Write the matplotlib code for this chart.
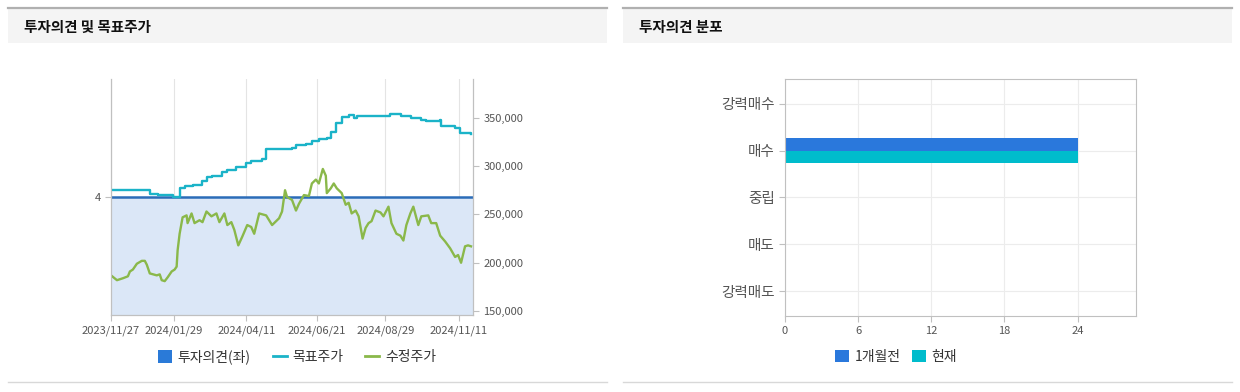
import numpy as np
import matplotlib
matplotlib.use("Agg")
import matplotlib.pyplot as plt
from matplotlib.patches import Rectangle, Patch
from matplotlib.lines import Line2D

plt.rcParams['font.family'] = ['Noto Sans CJK KR', 'DejaVu Sans']

W, H = 1240, 392
START = np.datetime64('2023-11-27')

# target price (days since start, thousand KRW), step series
tp_days = [0, 39, 47, 62, 69, 74, 82, 92, 97, 102, 112, 117, 126, 136, 141,
           152, 156, 169, 182, 186, 196, 202, 209, 217, 221, 226, 232, 239,
           244, 247, 269, 281, 292, 302, 312, 317, 331, 332, 346, 351, 362]
tp_vals = [275, 271, 270, 268, 277, 279, 280, 285, 289, 290, 294, 296, 299,
           303, 305, 307, 318, 318, 319, 322, 323, 326, 328, 329, 335, 344,
           351, 353, 350, 352, 352, 354, 352, 350, 348, 347, 348, 341, 339,
           334, 333]

# adjusted close (days since start, thousand KRW)
px_days = [0, 6, 12, 17, 19, 22, 26, 31, 34, 36, 39, 46, 49, 51, 54, 57, 61,
           64, 66, 67, 69, 72, 76, 77, 81, 84, 89, 92, 96, 101, 106, 109, 114,
           117, 121, 124, 128, 132, 137, 141, 144, 149, 156, 162, 169, 172,
           175, 177, 182, 186, 189, 194, 199, 202, 206, 209, 213, 216, 217,
           221, 224, 227, 232, 236, 239, 242, 246, 249, 253, 256, 259, 262,
           266, 271, 274, 279, 282, 287, 291, 294, 297, 301, 304, 309, 312,
           319, 322, 327, 331, 336, 341, 346, 349, 352, 356, 359, 362]
px_vals = [187, 182, 184, 186, 191, 193, 199, 202, 202, 198, 189, 187, 188,
           182, 181, 185, 191, 193, 196, 213, 230, 247, 249, 241, 251, 241,
           244, 242, 253, 248, 251, 242, 251, 239, 242, 234, 218, 227, 239,
           237, 230, 251, 249, 239, 246, 253, 275, 268, 265, 254, 261, 270,
           269, 282, 286, 282, 297, 290, 272, 277, 282, 277, 272, 260, 262,
           251, 254, 248, 225, 236, 241, 243, 254, 252, 248, 258, 241, 230,
           228, 223, 239, 251, 258, 239, 248, 249, 241, 241, 228, 222, 215,
           206, 208, 200, 217, 218, 217]

opinion_level = 4
end_day = 364

x_tick_labels = ['2023/11/27', '2024/01/29', '2024/04/11', '2024/06/21',
                 '2024/08/29', '2024/11/11']
price_ticks = [150, 200, 250, 300, 350]

categories = ['강력매수', '매수', '중립', '매도', '강력매도']
prev_month = [0, 24, 0, 0, 0]
current = [0, 24, 0, 0, 0]
dist_ticks = [0, 6, 12, 18, 24]

GRAY_TXT = '#555555'
GRID = '#e4e4e4'
SPINE = '#c0c0c0'


def to_dates(days):
    return (START + np.array(days, dtype='timedelta64[D]')).astype('datetime64[D]')


def fx(x):
    return x / W


def fy(y):
    return 1 - y / H


fig = plt.figure(figsize=(W / 100, H / 100), dpi=100)
fig.patch.set_facecolor('white')

# panel headers and separators
for x0, x1, title in [(8, 607, '투자의견 및 목표주가'), (623, 1232, '투자의견 분포')]:
    fig.add_artist(Rectangle((fx(x0), fy(43)), fx(x1 - x0), (43 - 8) / H,
                             transform=fig.transFigure, facecolor='#f4f4f4',
                             edgecolor='none'))
    fig.add_artist(Line2D([fx(x0), fx(x1)], [fy(7.5), fy(7.5)],
                          transform=fig.transFigure, color='#b0b0b0', lw=1.6))
    fig.add_artist(Line2D([fx(x0), fx(x1)], [fy(382), fy(382)],
                          transform=fig.transFigure, color='#d8d8d8', lw=1.0))
    fig.text(fx(x0 + 16), fy(27), title, fontsize=10.5, fontweight='bold',
             color='#111111', va='center', ha='left')

# ---- left: opinion & target price ----
ax = fig.add_axes([fx(111), fy(315), fx(473 - 111), (315 - 79) / H])
d_all = to_dates([0, end_day])
ax.fill_between(d_all, [opinion_level] * 2, 0, color='#dbe7f7', lw=0)
ax.plot(d_all, [opinion_level] * 2, color='#2b6cb8', lw=1.8)
ax.set_ylim(0, 8)
ax.set_yticks([opinion_level])
ax.set_yticklabels([str(opinion_level)])
ax.set_xlim(d_all[0], d_all[1])
ax.set_xticks([np.datetime64(s.replace('/', '-')) for s in x_tick_labels])
ax.set_xticklabels(x_tick_labels)
ax.grid(axis='x', color=GRID, lw=0.8)
ax.set_axisbelow(True)
ax.tick_params(axis='both', colors=SPINE, labelcolor=GRAY_TXT, labelsize=8,
               length=4)
for s in ax.spines.values():
    s.set_color(SPINE)
ax.spines['top'].set_visible(False)

ax2 = ax.twinx()
ax2.plot(to_dates(tp_days), tp_vals, color='#1bb3c8', lw=1.7,
         drawstyle='steps-post')
ax2.plot(to_dates(px_days), px_vals, color='#8ab84a', lw=1.7)
ax2.set_ylim(146, 390)
ax2.set_yticks(price_ticks)
ax2.set_yticklabels([f'{v * 1000:,}' for v in price_ticks])
ax2.tick_params(axis='y', colors=SPINE, labelcolor=GRAY_TXT, labelsize=8,
                length=4)
for s in ax2.spines.values():
    s.set_color(SPINE)
ax2.spines['top'].set_visible(False)

fig.legend(handles=[Patch(facecolor='#2a7ad8', edgecolor='none'),
                    Line2D([], [], color='#1bb3c8', lw=2),
                    Line2D([], [], color='#8ab84a', lw=2)],
           labels=['투자의견(좌)', '목표주가', '수정주가'],
           loc='center', bbox_to_anchor=(fx(297), fy(357)), ncol=3,
           frameon=False, fontsize=10, handlelength=1.0, handleheight=1.0,
           handletextpad=0.4, columnspacing=1.6, labelcolor='#333333')

# ---- right: opinion distribution ----
bx = fig.add_axes([fx(785), fy(316), fx(1136 - 785), (316 - 79) / H])
ypos = np.arange(len(categories))
bh = 0.27
bx.barh(ypos - bh / 2, prev_month, height=bh, color='#2a78dc')
bx.barh(ypos + bh / 2, current, height=bh, color='#00bccc')
bx.set_ylim(len(categories) - 0.47, -0.53)
bx.set_yticks(ypos)
bx.set_yticklabels(categories)
bx.set_xlim(0, 28.8)
bx.set_xticks(dist_ticks)
bx.grid(True, color='#ececec', lw=0.8)
bx.set_axisbelow(True)
bx.tick_params(axis='y', colors=SPINE, labelcolor=GRAY_TXT, labelsize=10.5,
               length=4)
bx.tick_params(axis='x', colors=SPINE, labelcolor=GRAY_TXT, labelsize=8,
               length=4)
for s in bx.spines.values():
    s.set_color(SPINE)

fig.legend(handles=[Patch(facecolor='#2a78dc', edgecolor='none'),
                    Patch(facecolor='#00bccc', edgecolor='none')],
           labels=['1개월전', '현재'],
           loc='center', bbox_to_anchor=(fx(896), fy(357)), ncol=2,
           frameon=False, fontsize=10, handlelength=1.0, handleheight=1.0,
           handletextpad=0.4, columnspacing=0.8, labelcolor='#333333')

fig.savefig('out.png', dpi=100)
